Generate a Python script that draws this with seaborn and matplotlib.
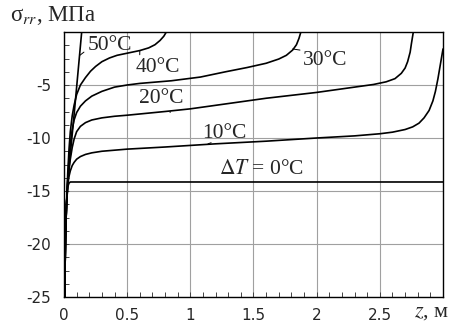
import numpy as np
import pandas as pd
import matplotlib
matplotlib.use('Agg')
import matplotlib.pyplot as plt
from matplotlib.ticker import MultipleLocator
import seaborn as sns

# sigma_rr(z) curves, one pair of lists per temperature
z_0 = [0.005, 0.012, 0.02, 0.03, 0.04, 0.05, 3.0]
s_0 = [-25, -19.5, -16.2, -14.6, -14.25, -14.15, -14.15]

z_10 = [0.005, 0.012, 0.02, 0.03, 0.04, 0.05, 0.065, 0.08, 0.1, 0.13, 0.17, 0.22,
        0.3, 0.4, 0.5, 0.8, 1.2, 1.6, 2.0, 2.3, 2.5, 2.6, 2.7, 2.76, 2.81, 2.85,
        2.89, 2.92, 2.94, 2.96, 2.98, 3.0]
s_10 = [-25, -19.5, -16.2, -14.4, -13.6, -13.1, -12.6, -12.3, -12.0, -11.75, -11.55,
        -11.4, -11.25, -11.15, -11.05, -10.85, -10.55, -10.3, -10.0, -9.8, -9.6,
        -9.45, -9.2, -8.95, -8.6, -8.1, -7.4, -6.5, -5.6, -4.4, -3.0, -1.6]

z_20 = [0.005, 0.012, 0.02, 0.03, 0.04, 0.05, 0.065, 0.08, 0.1, 0.13, 0.17, 0.22,
        0.3, 0.4, 0.5, 0.8, 1.0, 1.3, 1.6, 2.0, 2.3, 2.45, 2.55, 2.62, 2.67, 2.7,
        2.72, 2.74, 2.75, 2.765]
s_20 = [-25, -19.5, -16.2, -14.2, -13.0, -12.0, -10.9, -10.1, -9.4, -8.9, -8.55,
        -8.3, -8.1, -7.95, -7.85, -7.5, -7.25, -6.75, -6.25, -5.7, -5.2, -4.95,
        -4.7, -4.4, -3.9, -3.4, -2.8, -1.9, -1.1, 0]

z_30 = [0.005, 0.012, 0.02, 0.03, 0.04, 0.05, 0.065, 0.08, 0.1, 0.13, 0.17, 0.22,
        0.3, 0.4, 0.5, 0.6, 0.85, 1.08, 1.28, 1.45, 1.6, 1.7, 1.76, 1.81, 1.84,
        1.86, 1.875]
s_30 = [-25, -19.5, -16.2, -13.8, -12.0, -10.6, -9.2, -8.3, -7.6, -7.0, -6.5, -6.05,
        -5.6, -5.2, -5.0, -4.85, -4.6, -4.25, -3.75, -3.35, -2.95, -2.55, -2.2,
        -1.7, -1.2, -0.6, 0]

z_40 = [0.005, 0.012, 0.02, 0.03, 0.04, 0.05, 0.065, 0.08, 0.1, 0.13, 0.17, 0.21,
        0.25, 0.3, 0.36, 0.42, 0.5, 0.6, 0.67, 0.72, 0.76, 0.79, 0.81]
s_40 = [-25, -19.5, -16.2, -13.2, -11.0, -9.4, -7.9, -6.9, -5.9, -5.0, -4.3, -3.7,
        -3.25, -2.8, -2.45, -2.2, -2.0, -1.75, -1.5, -1.2, -0.8, -0.4, 0]

z_50 = [0.005, 0.012, 0.02, 0.03, 0.08, 0.14]
s_50 = [-25, -19.5, -16.2, -14.0, -7.8, 0]

curves = {
    '0': (z_0, s_0),
    '10': (z_10, s_10),
    '20': (z_20, s_20),
    '30': (z_30, s_30),
    '40': (z_40, s_40),
    '50': (z_50, s_50),
}

x_ticks = [0, 0.5, 1, 1.5, 2, 2.5]
x_tick_labels = ['0', '0.5', '1', '1.5', '2', '2.5']
y_ticks = [-25, -20, -15, -10, -5]
y_tick_labels = ['-25', '-20', '-15', '-10', '-5']

# long form table for seaborn
rows = []
for name, (zz, ss) in curves.items():
    for z, s in zip(zz, ss):
        rows.append({'z': z, 'sigma': s, 'curve': name})
df = pd.DataFrame(rows)

sns.set_style('ticks')
plt.rcParams['mathtext.fontset'] = 'stix'

fig = plt.figure(figsize=(4.52, 3.30), dpi=100)
ax = fig.add_axes([64 / 452, 33 / 330, 379 / 452, 265 / 330])

sns.lineplot(data=df, x='z', y='sigma', hue='curve', palette=['black'] * 6,
             estimator=None, sort=False, legend=False, lw=1.2, ax=ax)

ax.set_xlim(0, 3)
ax.set_ylim(-25, 0)
ax.set_xticks(x_ticks)
ax.set_xticklabels(x_tick_labels)
ax.set_yticks(y_ticks)
ax.set_yticklabels(y_tick_labels)
ax.xaxis.set_minor_locator(MultipleLocator(0.1))
ax.yaxis.set_minor_locator(MultipleLocator(1.25))
ax.grid(True, which='major', color='#a0a0a0', lw=0.8)
ax.tick_params(which='both', direction='in', length=3.5, width=0.7, color='#444444',
               top=False, right=False)
ax.tick_params(axis='x', pad=8, labelsize=11)
ax.tick_params(axis='y', pad=9, labelsize=11)
for sp in ax.spines.values():
    sp.set_linewidth(1.0)
    sp.set_color('black')

serif = ['Liberation Serif', 'DejaVu Serif']
ax.set_xlabel(r'$z$, м', family=serif, fontsize=16, va='center', ha='center')
ax.xaxis.set_label_coords(0.97, -0.057)
ax.set_ylabel(r'σ$_{rr}$, МПа', family=serif, fontsize=16.5, rotation=0,
              ha='left', va='center')
ax.yaxis.set_label_coords(-0.142, 1.062)

# curve labels with short leader lines
labels = [
    ('50°C', (0.125, -2.2), (0.36, -1.3), (0.0, 0.3)),
    ('40°C', (0.60, -1.75), (0.74, -3.35), (0.1, 1.0)),
    ('30°C', (1.81, -1.6), (2.07, -2.65), (0.0, 1.0)),
    ('20°C', (0.84, -7.6), (0.77, -6.3), (0.7, 0.0)),
    ('10°C', (1.14, -10.55), (1.27, -9.55), (0.2, 0.0)),
]
for text, xy, xyt, rp in labels:
    ax.annotate(text, xy=xy, xytext=xyt, ha='center', va='center', family=serif,
                fontsize=15.5,
                arrowprops=dict(arrowstyle='-', lw=0.7, color='black', relpos=rp,
                                shrinkA=0, shrinkB=0))
ax.text(1.56, -12.97, r'$\Delta T$ = 0°C', ha='center', va='center', family=serif,
        fontsize=15.5)

fig.savefig('out.png', dpi=100)
